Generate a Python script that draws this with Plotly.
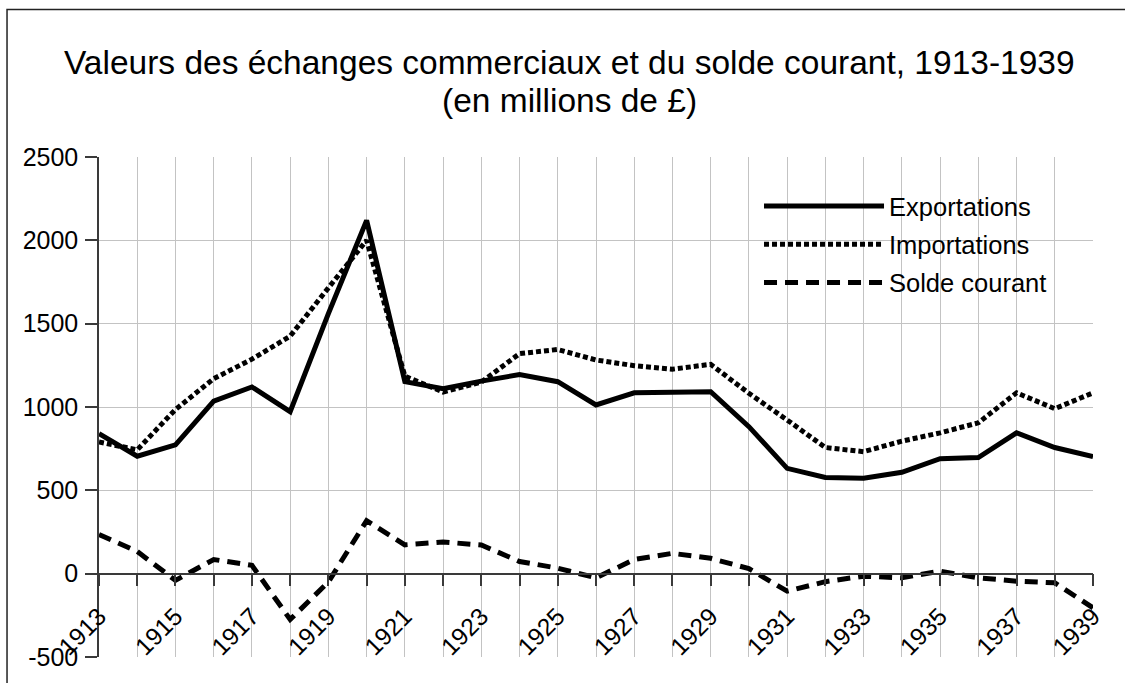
import plotly.graph_objects as go

years = [1913, 1914, 1915, 1916, 1917, 1918, 1919, 1920, 1921, 1922, 1923, 1924, 1925, 1926,
         1927, 1928, 1929, 1930, 1931, 1932, 1933, 1934, 1935, 1936, 1937, 1938, 1939]
exportations = [840, 705, 773, 1035, 1120, 972, 1560, 2120, 1152, 1110, 1155, 1195, 1152, 1012,
                1085, 1087, 1092, 882, 632, 577, 572, 608, 690, 697, 845, 757, 702]
importations = [790, 743, 985, 1170, 1287, 1425, 1715, 2000, 1185, 1090, 1150, 1320, 1345, 1282,
                1248, 1227, 1256, 1082, 922, 757, 732, 795, 845, 905, 1085, 990, 1085]
solde_courant = [235, 133, -40, 85, 50, -275, -50, 318, 173, 190, 172, 73, 33, -25,
                 85, 122, 92, 30, -105, -48, -15, -25, 15, -25, -45, -55, -205]
y_tickvals = [-500, 0, 500, 1000, 1500, 2000, 2500]
y_ticktext = ["-500", "0", "500", "1000", "1500", "2000", "2500"]

FONT = "Liberation Sans, Arial, sans-serif"
GRID = "#c3c3c3"
AXIS = "#3a3a3a"

fig = go.Figure()
fig.add_trace(go.Scatter(x=years, y=exportations, name="Exportations", mode="lines",
                         line=dict(color="black", width=5), legendgroup="a"))
fig.add_trace(go.Scatter(x=years, y=importations, name="Importations", mode="lines",
                         line=dict(color="black", width=5, dash="5px,3px"), legendgroup="b"))
fig.add_trace(go.Scatter(x=years, y=solde_courant, name="Solde courant", mode="lines",
                         line=dict(color="black", width=5, dash="13px,8px"), legendgroup="c"))

fig.update_layout(
    width=1125, height=683,
    margin=dict(l=99, r=32, t=157, b=24),
    paper_bgcolor="white", plot_bgcolor="white",
    font=dict(family=FONT, color="black", size=25),
    showlegend=True,
    legend=dict(x=0.664, y=0.948, xanchor="left", yanchor="top",
                bgcolor="rgba(0,0,0,0)", font=dict(size=25.5, family=FONT),
                tracegroupgap=2, itemwidth=120),
    xaxis=dict(range=[1913, 1939], tick0=1913, dtick=2, tickangle=-45,
               anchor="free", position=500 / 3000,
               showline=True, linecolor=AXIS, linewidth=1.5,
               ticks="outside", ticklen=12, tickcolor=AXIS, tickwidth=1.5, ticklabelstandoff=6,
               showgrid=True, gridcolor=GRID, gridwidth=1.3, zeroline=False,
               tickfont=dict(size=24.5, family=FONT),
               minor=dict(dtick=1, ticks="outside", ticklen=12, tickcolor=AXIS, tickwidth=1.5,
                          showgrid=True, gridcolor=GRID, gridwidth=1.3)),
    yaxis=dict(range=[-500, 2500], tickmode="array", tickvals=y_tickvals, ticktext=y_ticktext,
               showline=True, linecolor=AXIS, linewidth=1.5,
               ticks="outside", ticklen=12, tickcolor=AXIS, tickwidth=1.5, ticklabelstandoff=2,
               showgrid=True, gridcolor=GRID, gridwidth=1.3, zeroline=False,
               tickfont=dict(size=25, family=FONT)),
)

fig.add_annotation(text="Valeurs des échanges commerciaux et du solde courant, 1913-1939",
                   xref="paper", yref="paper", x=0.473, y=1.190, xanchor="center", yanchor="middle",
                   showarrow=False, font=dict(size=33.5, family=FONT, color="black"))
fig.add_annotation(text="(en millions de £)",
                   xref="paper", yref="paper", x=0.473, y=1.1125, xanchor="center", yanchor="middle",
                   showarrow=False, font=dict(size=33.5, family=FONT, color="black"))

# outer chart border (left and top edges visible in the frame)
fig.add_shape(type="rect", xref="paper", yref="paper",
              x0=(7 - 99) / 994.3, x1=1.2, y0=-0.3, y1=(659 - 9) / 502,
              line=dict(color="#222222", width=1.5), fillcolor="rgba(0,0,0,0)", layer="below")

fig.write_html("out.html", config={"displayModeBar": False},
               post_script="document.body.style.margin='0px';")
